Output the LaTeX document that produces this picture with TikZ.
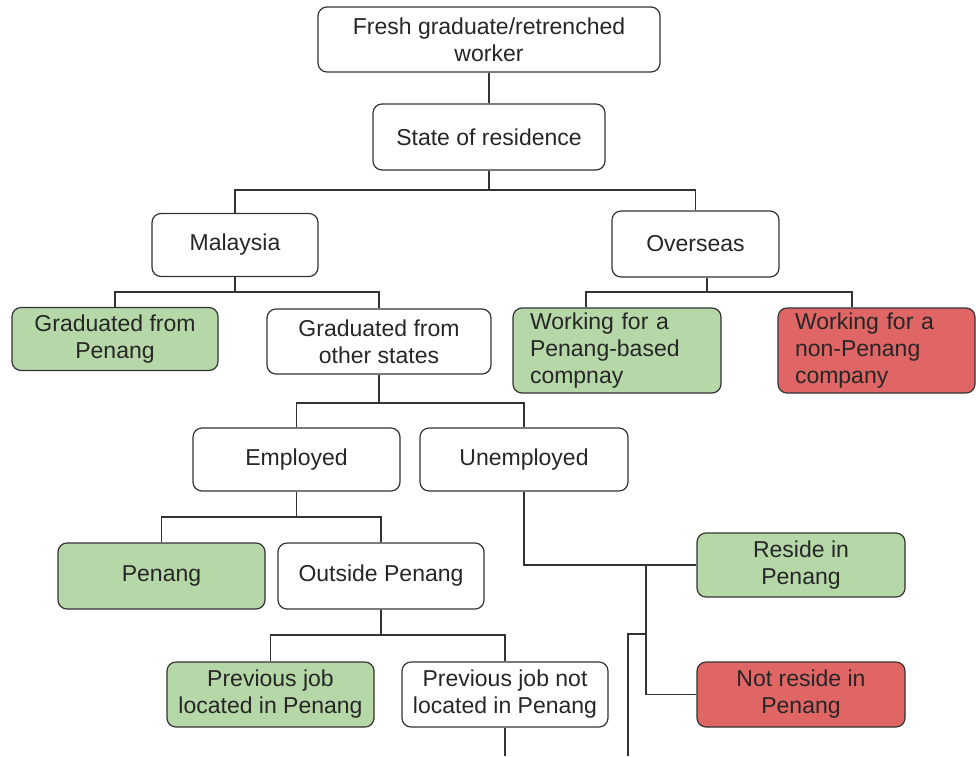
\documentclass[tikz,border=0pt]{standalone}
\usepackage{fontspec}
\setmainfont{Liberation Sans}
\definecolor{okgreen}{HTML}{B6D7A8}
\definecolor{nored}{HTML}{E06666}
\definecolor{boxline}{HTML}{333333}
\tikzset{
  box/.style={draw=boxline, line width=1.2pt, rounded corners=9pt, inner sep=0pt,
    align=center, text=black!85, font=\fontsize{23}{27}\selectfont},
  okbox/.style={box, fill=okgreen},
  nobox/.style={box, fill=nored},
  link/.style={draw=boxline, line width=1.2pt}
}
\begin{document}
\begin{tikzpicture}[x=1pt, y=-1pt]
  \useasboundingbox (0,0) rectangle (976,756);
  % boxes
  \node[box, minimum width=342pt, minimum height=65pt] (fresh) at (489,39.5) {Fresh graduate/retrenched\\worker};
  \node[box, minimum width=232pt, minimum height=66pt] (state) at (489,137) {State of residence};
  \node[box, minimum width=166pt, minimum height=63pt] (malaysia) at (235,245) {Malaysia};
  \node[box, minimum width=167pt, minimum height=66pt] (overseas) at (695.5,244) {Overseas};
  \node[okbox, minimum width=206pt, minimum height=63pt] (gradpg) at (115,339) {Graduated from\\Penang};
  \node[box, minimum width=224pt, minimum height=65pt] (gradother) at (379,341.5) {Graduated from\\other states};
  \node[okbox, align=left, inner xsep=17pt, text width=174pt, minimum height=85pt] (workpg) at (617,350.5) {Working for a\\Penang-based\\compnay};
  \node[nobox, align=left, inner xsep=17pt, text width=163pt, minimum height=85pt] (worknon) at (876.5,350.5) {Working for a\\non-Penang\\company};
  \node[box, minimum width=207pt, minimum height=63pt] (employed) at (296.5,459.5) {Employed};
  \node[box, minimum width=208pt, minimum height=63pt] (unemployed) at (524,459.5) {Unemployed};
  \node[okbox, minimum width=207pt, minimum height=66pt] (penang) at (161.5,576) {Penang};
  \node[box, minimum width=206pt, minimum height=66pt] (outside) at (381,576) {Outside Penang};
  \node[okbox, minimum width=208pt, minimum height=64pt] (reside) at (801,565) {Reside in\\Penang};
  \node[nobox, minimum width=208pt, minimum height=65pt] (notreside) at (801,694.5) {Not reside in\\Penang};
  \node[okbox, minimum width=207pt, minimum height=65pt] (prevpg) at (270.5,694.5) {Previous job\\located in Penang};
  \node[box, minimum width=206pt, minimum height=65pt] (prevnot) at (505,694.5) {Previous job not\\located in Penang};
  % joints
  \coordinate (j1) at (489,190);
  \coordinate (j2) at (235,292);
  \coordinate (j3) at (707,292);
  \coordinate (j4) at (379,403);
  \coordinate (j5) at (296.5,517);
  \coordinate (j6) at (381,635);
  \coordinate (j7) at (646,565);
  \coordinate (j8) at (646,634);
  \coordinate (prevend) at (505,756);
  \coordinate (loopend) at (628,756);
  \begin{scope}[link]
    \draw (fresh) -- (state);
    \draw (state.south) -- (j1);
    \draw (malaysia.north) |- (j1) -| (overseas.north);
    \draw (malaysia.south) -- (j2);
    \draw (gradpg.north) |- (j2) -| (gradother.north);
    \draw ([xshift=11.5pt]overseas.south) -- (j3);
    \draw ([xshift=-31pt]workpg.north) |- (j3) -| ([xshift=-24.5pt]worknon.north);
    \draw (gradother.south) -- (j4);
    \draw (employed.north) |- (j4) -| (unemployed.north);
    \draw (employed.south) -- (j5);
    \draw (penang.north) |- (j5) -| (outside.north);
    \draw (outside.south) -- (j6);
    \draw (prevpg.north) |- (j6) -| (prevnot.north);
    \draw (prevnot.south) -- (prevend);
    \draw (unemployed.south) |- (reside.west);
    \draw (j7) |- (notreside.west);
    \draw (j8) -| (loopend);
  \end{scope}
\end{tikzpicture}
\end{document}
